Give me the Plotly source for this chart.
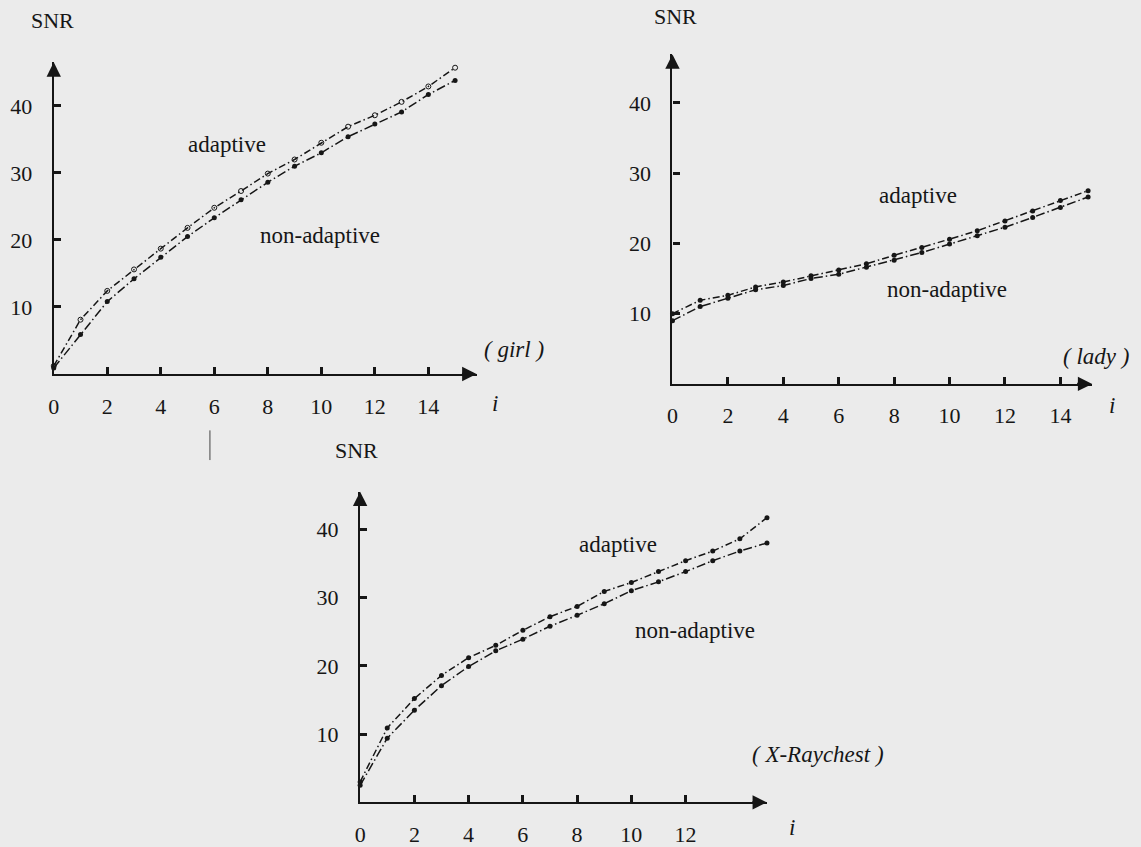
# ============================================================
# snr_adaptive.py
# Three SNR-vs-i line charts (girl, lady, X-ray chest) from a
# scanned page: adaptive vs non-adaptive coding
# ============================================================

import plotly.graph_objects as go

# ------------------------------------------------------------
# Data
# ------------------------------------------------------------
I_STEPS = list(range(16))

GIRL_ADAPTIVE     = [1.2, 8.1, 12.4, 15.6, 18.7, 21.8, 24.8, 27.3, 29.9, 32.0, 34.5, 36.9, 38.6, 40.6, 42.9, 45.7]
GIRL_NON_ADAPTIVE = [0.9, 5.9, 10.8, 14.2, 17.4, 20.5, 23.3, 26.0, 28.6, 31.0, 33.0, 35.4, 37.3, 39.1, 41.7, 43.8]

LADY_ADAPTIVE     = [10.0, 11.9, 12.6, 13.8, 14.5, 15.4, 16.2, 17.1, 18.3, 19.4, 20.6, 21.8, 23.2, 24.6, 26.1, 27.5]
LADY_NON_ADAPTIVE = [9.0, 11.0, 12.2, 13.4, 14.0, 15.0, 15.6, 16.6, 17.6, 18.7, 19.9, 21.1, 22.3, 23.7, 25.1, 26.6]

XRAY_ADAPTIVE     = [3.0, 10.9, 15.2, 18.6, 21.2, 23.0, 25.2, 27.2, 28.7, 30.9, 32.2, 33.8, 35.4, 36.8, 38.6, 41.7]
XRAY_NON_ADAPTIVE = [2.5, 9.4, 13.5, 17.1, 19.9, 22.2, 23.9, 25.8, 27.4, 29.1, 31.0, 32.3, 33.8, 35.4, 36.8, 38.0]

X_TICKS_LONG  = [0, 2, 4, 6, 8, 10, 12, 14]
X_TICKS_SHORT = [0, 2, 4, 6, 8, 10, 12]
Y_TICKS       = [10, 20, 30, 40]

W, H = 1141, 847
INK = '#161616'
PAPER = '#ebebeb'
SERIF = 'Liberation Serif, Times New Roman, serif'


def px(x, y):
    """pixel position on the page -> paper coordinates"""
    return x / W, 1 - y / H


# panel boxes in page pixels: left, right, bottom, top, and data ranges
PANELS = [
    dict(name='girl', left=48, right=473, bottom=378, top=63,
         xr=[0, 15.8], yr=[0, 46.5], xticks=X_TICKS_LONG,
         adaptive=GIRL_ADAPTIVE, non_adaptive=GIRL_NON_ADAPTIVE, open_marks=True),
    dict(name='lady', left=670, right=1092, bottom=388, top=55,
         xr=[0, 15.15], yr=[0, 46.9], xticks=X_TICKS_LONG,
         adaptive=LADY_ADAPTIVE, non_adaptive=LADY_NON_ADAPTIVE, open_marks=False),
    dict(name='xray', left=356, right=765, bottom=811, top=497,
         xr=[0, 15.0], yr=[0, 45.5], xticks=X_TICKS_SHORT,
         adaptive=XRAY_ADAPTIVE, non_adaptive=XRAY_NON_ADAPTIVE, open_marks=False),
]

fig = go.Figure()
layout = {}
annotations = []

for k, p in enumerate(PANELS, start=1):
    xa, ya = f'x{k}', f'y{k}'
    xkey, ykey = f'xaxis{k}', f'yaxis{k}'
    x0, _ = px(p['left'], 0)
    x1, _ = px(p['right'], 0)
    _, y0 = px(0, p['bottom'])
    _, y1 = px(0, p['top'])

    # two dash-dot curves
    fig.add_trace(go.Scatter(
        x=I_STEPS, y=p['adaptive'], xaxis=xa, yaxis=ya,
        mode='lines+markers', cliponaxis=False, showlegend=False,
        line=dict(color=INK, width=1.5, dash='7px,3px,1.5px,3px'),
        marker=dict(size=5, color=INK,
                    symbol='circle-open' if p['open_marks'] else 'circle'),
    ))
    fig.add_trace(go.Scatter(
        x=I_STEPS, y=p['non_adaptive'], xaxis=xa, yaxis=ya,
        mode='lines+markers', cliponaxis=False, showlegend=False,
        line=dict(color=INK, width=1.5, dash='9px,3px,1.5px,3px'),
        marker=dict(size=5, color=INK),
    ))

    common = dict(showline=True, linewidth=2.4, linecolor=INK,
                  ticks='inside', ticklen=7, tickwidth=2.6, tickcolor=INK,
                  showgrid=False, zeroline=False, fixedrange=True,
                  tickfont=dict(family=SERIF, size=22, color=INK))
    layout[xkey] = dict(domain=[x0, x1], range=p['xr'], anchor=ya,
                        tickvals=p['xticks'], ticklabelstandoff=11, **common)
    layout[ykey] = dict(domain=[y0, y1], range=p['yr'], anchor=xa,
                        tickvals=Y_TICKS, ticklabelstandoff=15, **common)

    # arrow heads at the ends of both axes
    for (xt, yt, xs, ys) in [(p['xr'][1], 0, p['xr'][1] - 0.6, 0),
                             (0, p['yr'][1], 0, p['yr'][1] - 2)]:
        annotations.append(dict(
            x=xt, y=yt, ax=xs, ay=ys, xref=xa, yref=ya, axref=xa, ayref=ya,
            text='', showarrow=True, arrowhead=2, arrowsize=1.2,
            arrowwidth=2.4, arrowcolor=INK,
        ))


# ------------------------------------------------------------
# Free text on the page
# ------------------------------------------------------------
def label(text, x, y, size=22, italic=False):
    ax_, ay_ = px(x, y)
    if italic:
        text = f'<i>{text}</i>'
    annotations.append(dict(
        x=ax_, y=ay_, xref='paper', yref='paper', text=text, showarrow=False,
        xanchor='center', yanchor='middle',
        font=dict(family=SERIF, size=size, color=INK),
    ))


# girl
label('SNR', 47, 21)
label('adaptive', 222, 146, size=23)
label('non-adaptive', 316, 238, size=23)
label('( girl )', 511, 353, size=23, italic=True)
label('i', 492, 408, size=23, italic=True)
# lady
label('SNR', 673, 17)
label('adaptive', 917, 198, size=23)
label('non-adaptive', 946, 293, size=23)
label('( lady )', 1096, 360, size=23, italic=True)
label('i', 1112, 410, size=23, italic=True)
# X-ray chest
label('SNR', 352, 455)
label('adaptive', 615, 550, size=23)
label('non-adaptive', 693, 637, size=23)
label('( X-Raychest )', 816, 763, size=23, italic=True)
label('i', 790, 836, size=23, italic=True)

fig.update_layout(
    width=W, height=H,
    margin=dict(l=0, r=0, t=0, b=0),
    paper_bgcolor=PAPER,
    plot_bgcolor='rgba(0,0,0,0)',
    annotations=annotations,
    shapes=[dict(type='line', xref='paper', yref='paper',
                 x0=px(205, 435)[0], x1=px(205, 465)[0],
                 y0=px(205, 435)[1], y1=px(205, 465)[1],
                 line=dict(color='#444', width=1))],
    **layout,
)

# page margin off so the figure fills the window, no modebar
fig.write_html('out.html', config={'displayModeBar': False},
               post_script="document.body.style.margin='0';")
